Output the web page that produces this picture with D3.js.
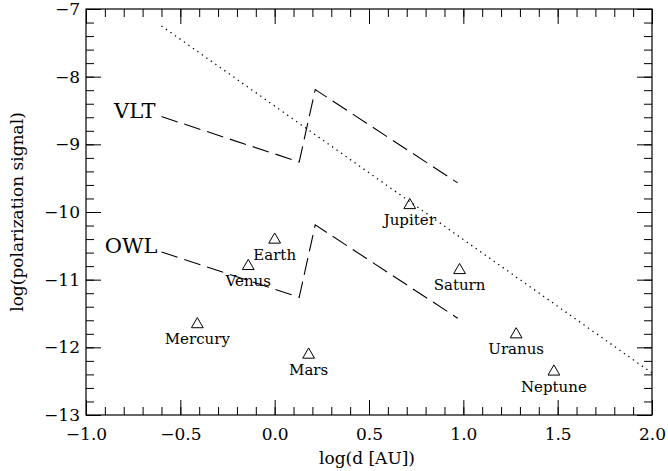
<!DOCTYPE html>
<html>
<head>
<meta charset="utf-8">
<script src="https://cdn.jsdelivr.net/npm/d3@7"></script>
<style>
  body { margin: 0; background: #fff; }
  .axis path { display: none; }
  .axis line { stroke: #000; stroke-width: 1; }
</style>
</head>
<body>
<div id="chart"></div>
<script>
// planeten: log(d) und log(signal)
const planets = ["Mercury", "Venus", "Earth", "Mars", "Jupiter", "Saturn", "Uranus", "Neptune"];
const planetX = [-0.41, -0.14, 0.0, 0.18, 0.716, 0.98, 1.28, 1.48];
const planetY = [-11.66, -10.80, -10.41, -12.11, -9.90, -10.86, -11.81, -12.36];

// instrumente (gestrichelt)
const vltX = [-0.6, 0.13, 0.215, 0.97];
const vltY = [-8.59, -9.26, -8.19, -9.57];
const owlX = [-0.6, 0.13, 0.215, 0.97];
const owlY = [-10.59, -11.26, -10.19, -11.57];

// gepunktete linie
const dotX = [-0.6, 2.0];
const dotY = [-7.25, -12.38];

const xTicks = [-1.0, -0.5, 0.0, 0.5, 1.0, 1.5, 2.0];
const yTicks = [-13, -12, -11, -10, -9, -8, -7];

const FONT = "'DejaVu Serif', 'Liberation Serif', serif";

const W = 668, H = 471;
const m = { left: 86, right: 16, top: 9, bottom: 56 };
const iw = W - m.left - m.right;
const ih = H - m.top - m.bottom;

const svg = d3.select("#chart").append("svg")
    .attr("width", W)
    .attr("height", H)
    .style("font-family", FONT);

const g = svg.append("g").attr("transform", `translate(${m.left},${m.top})`);

const x = d3.scaleLinear().domain([-1, 2]).range([0, iw]);
const y = d3.scaleLinear().domain([-13, -7]).range([ih, 0]);

const fmtX = d => d3.format(".1f")(d).replace("-", "\u2212");
const fmtY = d => String(d).replace("-", "\u2212");

const xMinor = d3.range(-1, 2.0001, 0.1);
const yMinor = d3.range(-13, -6.9999, 0.2);

// kleine ticks
g.append("g").attr("class", "axis").attr("transform", `translate(0,${ih})`)
    .call(d3.axisBottom(x).tickValues(xMinor).tickSize(-8).tickFormat(""));
g.append("g").attr("class", "axis")
    .call(d3.axisTop(x).tickValues(xMinor).tickSize(-8).tickFormat(""));
g.append("g").attr("class", "axis")
    .call(d3.axisLeft(y).tickValues(yMinor).tickSize(-8).tickFormat(""));
g.append("g").attr("class", "axis").attr("transform", `translate(${iw},0)`)
    .call(d3.axisRight(y).tickValues(yMinor).tickSize(-8).tickFormat(""));

// große ticks
const xb = g.append("g").attr("class", "axis").attr("transform", `translate(0,${ih})`)
    .call(d3.axisBottom(x).tickValues(xTicks).tickSize(-15).tickPadding(13).tickFormat(fmtX));
g.append("g").attr("class", "axis")
    .call(d3.axisTop(x).tickValues(xTicks).tickSize(-15).tickFormat(""));
const yl = g.append("g").attr("class", "axis")
    .call(d3.axisLeft(y).tickValues(yTicks).tickSize(-15).tickPadding(6).tickFormat(fmtY));
g.append("g").attr("class", "axis").attr("transform", `translate(${iw},0)`)
    .call(d3.axisRight(y).tickValues(yTicks).tickSize(-15).tickFormat(""));

xb.attr("font-family", FONT).attr("font-size", 17);
yl.attr("font-family", FONT).attr("font-size", 17);

// rahmen
g.append("rect")
    .attr("width", iw).attr("height", ih)
    .attr("fill", "none").attr("stroke", "#000").attr("stroke-width", 1.2);

// achsentitel
svg.append("text")
    .attr("x", 367).attr("y", 464)
    .attr("text-anchor", "middle")
    .style("font-size", "17px")
    .text("log(d [AU])");

svg.append("text")
    .attr("transform", `translate(23,${m.top + ih / 2}) rotate(-90)`)
    .attr("text-anchor", "middle")
    .style("font-size", "17px")
    .text("log(polarization signal)");

const line = d3.line().x(d => x(d[0])).y(d => y(d[1]));

g.append("path")
    .datum(dotX.map((v, i) => [v, dotY[i]]))
    .attr("d", line)
    .attr("fill", "none").attr("stroke", "#000").attr("stroke-width", 1.3)
    .attr("stroke-dasharray", "1.3,4.2");

[[vltX, vltY], [owlX, owlY]].forEach(([xs, ys]) => {
    g.append("path")
        .datum(xs.map((v, i) => [v, ys[i]]))
        .attr("d", line)
        .attr("fill", "none").attr("stroke", "#000").attr("stroke-width", 1.1)
        .attr("stroke-dasharray", "17,7");
});

// beschriftung VLT / OWL
g.append("text")
    .attr("x", x(vltX[0]) - 6).attr("y", y(vltY[0]) + 1)
    .attr("text-anchor", "end")
    .style("font-size", "21px")
    .text("VLT");
g.append("text")
    .attr("x", x(owlX[0]) - 4).attr("y", y(owlY[0]) + 1)
    .attr("text-anchor", "end")
    .style("font-size", "21px")
    .text("OWL");

// planeten
const tri = d3.symbol().type(d3.symbolTriangle).size(60);
const pts = g.selectAll(".planet")
    .data(planets.map((p, i) => ({ name: p, x: planetX[i], y: planetY[i] })))
    .enter().append("g")
    .attr("transform", d => `translate(${x(d.x)},${y(d.y)})`);

pts.append("path")
    .attr("d", tri)
    .attr("fill", "none").attr("stroke", "#000").attr("stroke-width", 1);

pts.append("text")
    .attr("y", 20)
    .attr("text-anchor", "middle")
    .style("font-size", "15px")
    .text(d => d.name);
</script>
</body>
</html>
